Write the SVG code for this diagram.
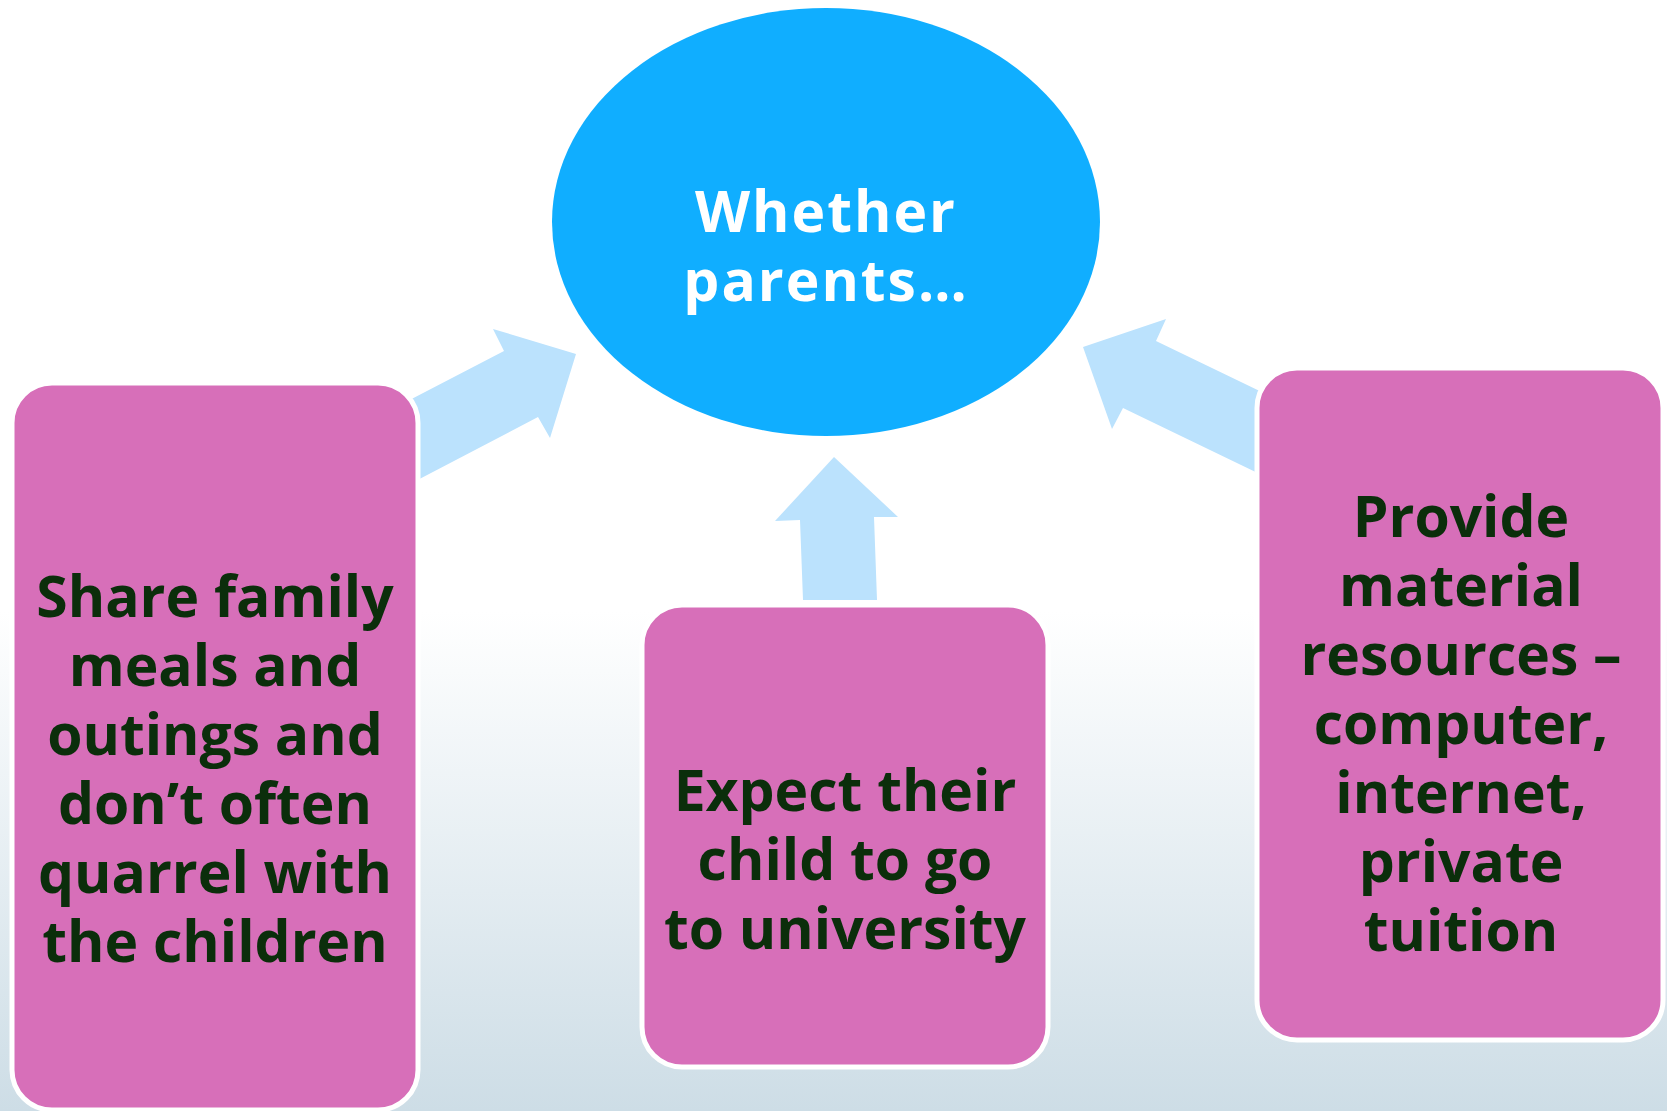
<svg xmlns="http://www.w3.org/2000/svg" width="1667" height="1111" viewBox="0 0 1667 1111">
  <defs>
    <linearGradient id="bg" x1="0" y1="0" x2="0" y2="1">
      <stop offset="0" stop-color="#ffffff"/>
      <stop offset="0.55" stop-color="#ffffff"/>
      <stop offset="1" stop-color="#cddde6"/>
    </linearGradient>
    <style>
      .box { fill: #d76fb9; stroke: #ffffff; stroke-width: 5; }
      .arrow { fill: #bbe2fd; }
      .t { font-family: "Open Sans", "Noto Sans", "Liberation Sans", sans-serif; font-weight: 700; font-size: 57px; text-anchor: middle; fill: #0b2e0b; }
      .w { fill: #ffffff; letter-spacing: 2px; }
    </style>
  </defs>
  <rect x="0" y="0" width="1667" height="1111" fill="url(#bg)"/>

  <g id="connectors">
    <polygon class="arrow" points="400,405 504,351 493,329 576,354 550,438 538,417 408,485"/>
    <polygon class="arrow" points="803,600 800,520 775,521 834,457 898,517 874,517 877,600"/>
    <polygon class="arrow" points="1270,396 1156,341 1166,319 1083,347 1112,429 1123,408 1268,478"/>
  </g>

  <g id="center">
    <ellipse cx="826" cy="222" rx="274" ry="214" fill="#10aeff"/>
    <text class="t w" x="826" y="232">Whether</text>
    <text class="t w" x="826" y="301">parents…</text>
  </g>

  <g id="left">
    <rect class="box" x="12" y="383" width="406" height="727" rx="40" ry="40"/>
    <text class="t" x="215" y="617">Share family</text>
    <text class="t" x="215" y="686">meals and</text>
    <text class="t" x="215" y="755">outings and</text>
    <text class="t" x="215" y="824">don’t often</text>
    <text class="t" x="215" y="893">quarrel with</text>
    <text class="t" x="215" y="962">the children</text>
  </g>

  <g id="middle">
    <rect class="box" x="642" y="605" width="406" height="462" rx="40" ry="40"/>
    <text class="t" x="845" y="811">Expect their</text>
    <text class="t" x="845" y="880">child to go</text>
    <text class="t" x="845" y="949">to university</text>
  </g>

  <g id="right">
    <rect class="box" x="1257" y="368" width="406" height="672" rx="40" ry="40"/>
    <text class="t" x="1461" y="537">Provide</text>
    <text class="t" x="1461" y="606">material</text>
    <text class="t" x="1461" y="675">resources –</text>
    <text class="t" x="1461" y="744">computer,</text>
    <text class="t" x="1461" y="813">internet,</text>
    <text class="t" x="1461" y="882">private</text>
    <text class="t" x="1461" y="951">tuition</text>
  </g>
</svg>
